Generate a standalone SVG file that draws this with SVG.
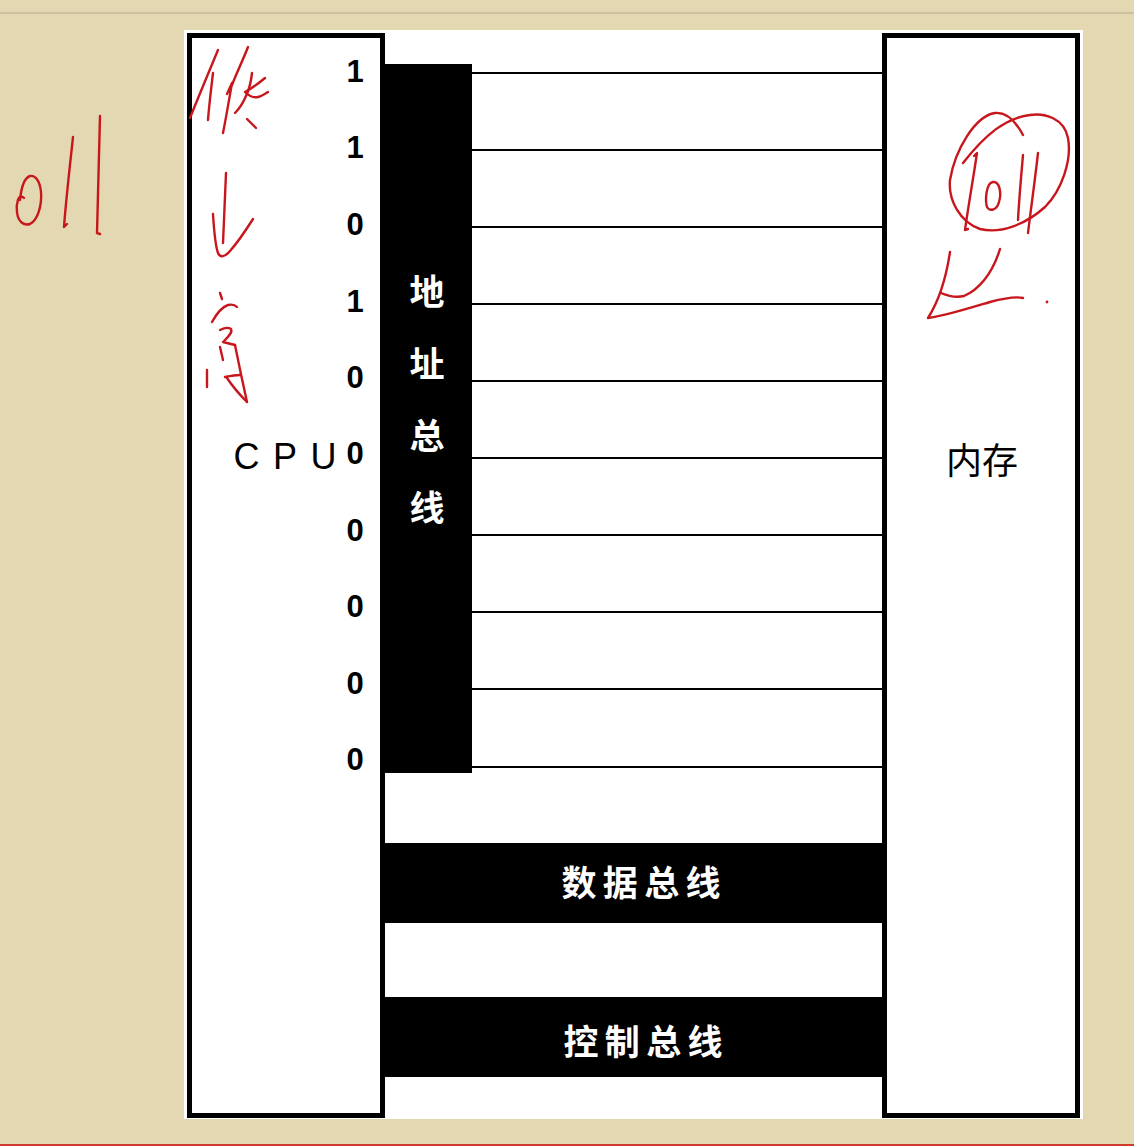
<svg xmlns="http://www.w3.org/2000/svg" width="1134" height="1146" viewBox="0 0 1134 1146">
<style>
.box{fill:#fff;stroke:#000;stroke-width:5}
.bar{fill:#000}
.wire{stroke:#000;stroke-width:2}
.bit{font-family:"Liberation Sans",sans-serif;font-weight:bold;font-size:31px;fill:#000;text-anchor:middle}
.cjkw{font-family:"Noto Sans CJK SC",sans-serif;font-weight:bold;font-size:35px;fill:#fff;text-anchor:middle}
.cjk{font-family:"Noto Sans CJK SC",sans-serif;font-size:36px;fill:#000;text-anchor:middle}
.ink{fill:none;stroke:#c8161d;stroke-width:2.4;stroke-linecap:round;stroke-linejoin:round}
</style>
<rect x="0" y="0" width="1134" height="1146" fill="#e4d8b3"/>
<line x1="0" y1="13" x2="1134" y2="13" stroke="#c9b998" stroke-width="1.5"/>
<line x1="0" y1="1145" x2="1134" y2="1145" stroke="#cf3a2c" stroke-width="2"/>
<rect x="184" y="30" width="899" height="1089" fill="#fff"/>

<g id="cpu">
<rect class="box" x="189.5" y="35.5" width="193" height="1080"/>
<text x="285" y="469" font-family="Liberation Sans,sans-serif" font-size="36" fill="#000" text-anchor="middle" textLength="103" lengthAdjust="spacing">CPU</text>
<g id="bits">
<text class="bit" x="355" y="82">1</text>
<text class="bit" x="355" y="158">1</text>
<text class="bit" x="355" y="235">0</text>
<text class="bit" x="355" y="312">1</text>
<text class="bit" x="355" y="388">0</text>
<text class="bit" x="355" y="464">0</text>
<text class="bit" x="355" y="541">0</text>
<text class="bit" x="355" y="617">0</text>
<text class="bit" x="355" y="694">0</text>
<text class="bit" x="355" y="770">0</text>
</g>
</g>

<g id="memory">
<rect class="box" x="884.5" y="35.5" width="193" height="1080"/>
<text class="cjk" x="982" y="474">内存</text>
</g>

<g id="address-bus">
<rect class="bar" x="383" y="64" width="89" height="709"/>
<text class="cjkw" x="427" y="305">地</text>
<text class="cjkw" x="427" y="377">址</text>
<text class="cjkw" x="427" y="449">总</text>
<text class="cjkw" x="427" y="521">线</text>
</g>

<g id="connectors">
<line class="wire" x1="472" y1="73" x2="884" y2="73"/>
<line class="wire" x1="472" y1="150" x2="884" y2="150"/>
<line class="wire" x1="472" y1="227" x2="884" y2="227"/>
<line class="wire" x1="472" y1="304" x2="884" y2="304"/>
<line class="wire" x1="472" y1="381" x2="884" y2="381"/>
<line class="wire" x1="472" y1="458" x2="884" y2="458"/>
<line class="wire" x1="472" y1="535" x2="884" y2="535"/>
<line class="wire" x1="472" y1="612" x2="884" y2="612"/>
<line class="wire" x1="472" y1="689" x2="884" y2="689"/>
<line class="wire" x1="472" y1="767" x2="884" y2="767"/>
</g>

<g id="data-bus">
<rect class="bar" x="383" y="843" width="501" height="80"/>
<text class="cjkw" x="641" y="896" textLength="159" lengthAdjust="spacing">数据总线</text>
</g>

<g id="control-bus">
<rect class="bar" x="383" y="997" width="501" height="80"/>
<text class="cjkw" x="643" y="1055" textLength="159" lengthAdjust="spacing">控制总线</text>
</g>

<g id="annotations">
<path class="ink" d="M24,198 C18,192 16,205 17,212 C18,222 24,226 30,224 C38,220 42,205 41,192 C40,182 36,175 30,176 C24,178 21,190 20,200"/>
<path class="ink" d="M73,137 C70,165 66,200 64,227 L67,224"/>
<path class="ink" d="M100,116 C99,150 98,200 97,233 L100,234"/>
<path class="ink" d="M218,50 C208,74 198,98 190,118"/>
<path class="ink" d="M213,73 C211,90 209,106 208,120"/>
<path class="ink" d="M248,47 C243,60 237,72 232,85"/>
<path class="ink" d="M227,94 L232,83 C229,100 226,118 223,133"/>
<path class="ink" d="M252,73 C251,82 249,90 246,96 C243,103 239,109 235,113"/>
<path class="ink" d="M265,78 C259,83 254,87 245,92 C249,96 254,98 258,97 C262,96 265,94 268,92"/>
<path class="ink" d="M247,119 C250,122 253,125 256,128"/>
<path class="ink" d="M226,173 C225,198 224,222 223,243"/>
<path class="ink" d="M213,214 C214,230 215,245 218,253 C220,258 225,257 230,251 C238,242 246,230 253,219"/>
<path class="ink" d="M220,293 L222,299"/>
<path class="ink" d="M212,322 C217,313 222,307 228,305 C232,304 235,305 237,307"/>
<path class="ink" d="M220,330 C224,328 228,327 231,329 C233,333 227,338 223,342 C227,343 231,344 235,345"/>
<path class="ink" d="M220,347 L223,360"/>
<path class="ink" d="M207,370 L207,387"/>
<path class="ink" d="M235,345 C239,365 243,384 247,402"/>
<path class="ink" d="M225,377 C230,376 235,375 240,375 M227,378 C233,387 240,395 247,402"/>
<path class="ink" d="M1023,135 C1015,120 1005,112 995,113 C975,116 955,150 950,180 C948,200 960,222 980,229 C1000,234 1025,225 1045,207 C1062,190 1072,160 1068,138 C1064,118 1045,113 1030,115 C1005,118 985,135 963,163"/>
<path class="ink" d="M974,156 L977,153 C973,180 968,208 965,230 L968,229"/>
<path class="ink" d="M993,182 C986,183 985,200 987,207 C990,212 997,210 999,202 C1002,192 999,181 993,182"/>
<path class="ink" d="M1023,155 C1021,178 1019,200 1018,220"/>
<path class="ink" d="M1038,153 C1035,180 1031,208 1028,233"/>
<path class="ink" d="M950,252 C947,272 942,296 928,318 C945,316 970,308 990,302 C1005,298 1015,296 1023,298"/>
<path class="ink" d="M941,293 C948,296 956,298 964,296 C978,290 992,275 1000,249"/>
<circle cx="1047" cy="302" r="1.4" fill="#c8161d"/>
</g>
</svg>
